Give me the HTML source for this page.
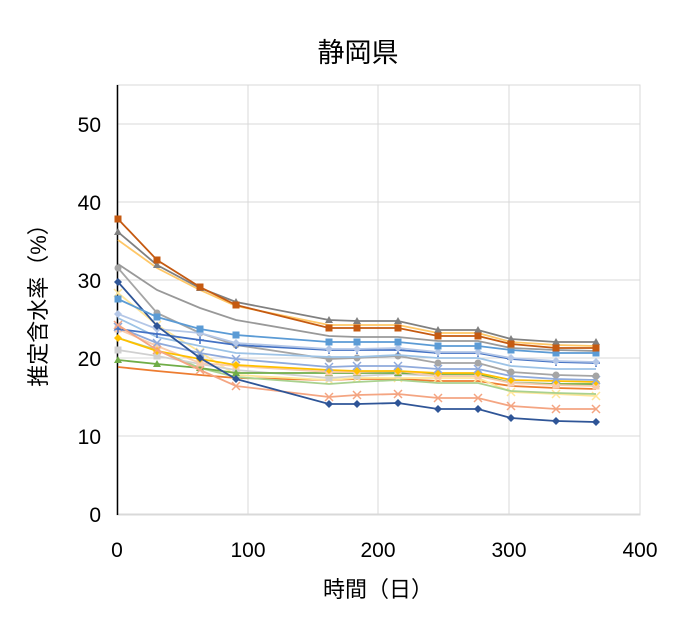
<!DOCTYPE html>
<html><head><meta charset="utf-8"><style>
body{margin:0;background:#fff;}
svg{display:block;font-family:"Liberation Sans","Noto Sans CJK JP",sans-serif;}
</style></head><body>
<svg id="c" width="676" height="625" xmlns="http://www.w3.org/2000/svg">
<rect width="676" height="625" fill="#fff"/>
<rect x="117" y="85" width="523" height="430" fill="none" stroke="#d9d9d9" stroke-width="1"/>
<g stroke="#d9d9d9" stroke-width="1">
<line x1="117" x2="640" y1="124" y2="124"/><line x1="117" x2="640" y1="202" y2="202"/>
<line x1="117" x2="640" y1="280" y2="280"/><line x1="117" x2="640" y1="358" y2="358"/>
<line x1="117" x2="640" y1="436" y2="436"/><line x1="117" x2="640" y1="514" y2="514"/>
<line x1="248" x2="248" y1="85" y2="515"/><line x1="378" x2="378" y1="85" y2="515"/>
<line x1="509" x2="509" y1="85" y2="515"/>
</g>
<line x1="117.5" x2="117.5" y1="85" y2="515" stroke="#000" stroke-width="1.5"/>
<g id="s"></g>
<g font-size="21" fill="#000" text-anchor="end">
<text x="101" y="132">50</text><text x="101" y="210">40</text><text x="101" y="288">30</text>
<text x="101" y="366">20</text><text x="101" y="444">10</text><text x="101" y="522">0</text>
</g>
<g font-size="21" fill="#000" text-anchor="middle">
<text x="117" y="557">0</text><text x="248" y="557">100</text><text x="378" y="557">200</text>
<text x="509" y="557">300</text><text x="640" y="557">400</text>
</g>
<text x="358" y="62" font-size="27" text-anchor="middle">静岡県</text>
<text x="378" y="597" font-size="22" text-anchor="middle">時間（日）</text>
<text transform="translate(46,300) rotate(-90)" font-size="22" text-anchor="middle">推定含水率（%）</text>
</svg>
<script>
var X=[118,157,200,236,329,357,398,438,478,511,556,596];
var S=[
["#ED7D31",[367,371,375,378,380,379,379,381,381,386,388,389],""],
["#FFE699",[293,325,352,375,380,378,378,378,378,392,394,396],"x"],
["#A9D18E",[338,350,368,377,384,382,380,383,383,391,393,394],""],
["#D0D0D0",[350,356,364,370,378,376,374,376,376,382,384,385],"s"],
["#70AD47",[360,364,368,373,373,373,373,374,374,383,384,384],"t"],
["#F8CBAD",[329,346,363,366,372,372,371,376,376,383,385,386],"s"],
["#FFC000",[338,351,359,365,370,371,371,373,373,380,381,382],"d"],
["#8FAADC",[327,343,353,359,367,366,366,369,369,376,379,380],"x"],
["#A5A5A5",[268,313,333,345,359,358,356,363,363,372,375,376],"c"],
["#9DC3E6",[318,337,346,353,357,357,355,358,358,366,369,369],""],
["#4472C4",[329,334,340,345,350,350,350,353,353,359,362,363],"p"],
["#B4C7E7",[314,329,333,343,349,349,348,352,352,358,361,362],"d"],
["#F4A582",[325,350,370,386,397,395,394,398,398,406,409,409],"x"],
["#2F5597",[282,326,358,379,404,404,403,409,409,418,421,422],"d"],
["#5B9BD5",[299,317,329,335,342,342,342,346,346,350,353,353],"s"],
["#999999",[264,290,308,320,336,337,337,341,341,348,350,351],""],
["#FFC766",[240,268,290,306,325,325,325,333,333,342,345,346],""],
["#808080",[232,265,288,302,320,321,321,330,330,339,342,342],"t"],
["#C55A11",[219,260,287,305,328,328,328,336,336,344,348,348],"s"]
];
var g=document.getElementById("s"),h="";
S.forEach(function(s){
 var c=s[0],p=s[1].map(function(y,i){return X[i]+","+y}).join(" ");
 h+='<polyline points="'+p+'" fill="none" stroke="'+c+'" stroke-width="1.8"/>';
 s[1].forEach(function(y,i){var x=X[i];
  if(s[2]=="s")h+='<rect x="'+(x-3.5)+'" y="'+(y-3.5)+'" width="7" height="7" fill="'+c+'"/>';
  else if(s[2]=="t")h+='<polygon points="'+x+','+(y-4)+' '+(x+4)+','+(y+3)+' '+(x-4)+','+(y+3)+'" fill="'+c+'"/>';
  else if(s[2]=="d")h+='<polygon points="'+x+','+(y-4)+' '+(x+4)+','+y+' '+x+','+(y+4)+' '+(x-4)+','+y+'" fill="'+c+'"/>';
  else if(s[2]=="c")h+='<circle cx="'+x+'" cy="'+y+'" r="3.5" fill="'+c+'"/>';
  else if(s[2]=="x")h+='<path d="M'+(x-4)+' '+(y-4)+'L'+(x+4)+' '+(y+4)+'M'+(x+4)+' '+(y-4)+'L'+(x-4)+' '+(y+4)+'" stroke="'+c+'" stroke-width="1.5"/>';
  else if(s[2]=="p")h+='<path d="M'+x+' '+(y-4)+'V'+(y+4)+'M'+(x-4)+' '+y+'H'+(x+4)+'" stroke="'+c+'" stroke-width="1.5"/>';
 });
});
g.innerHTML=h;
</script>
</body></html>
